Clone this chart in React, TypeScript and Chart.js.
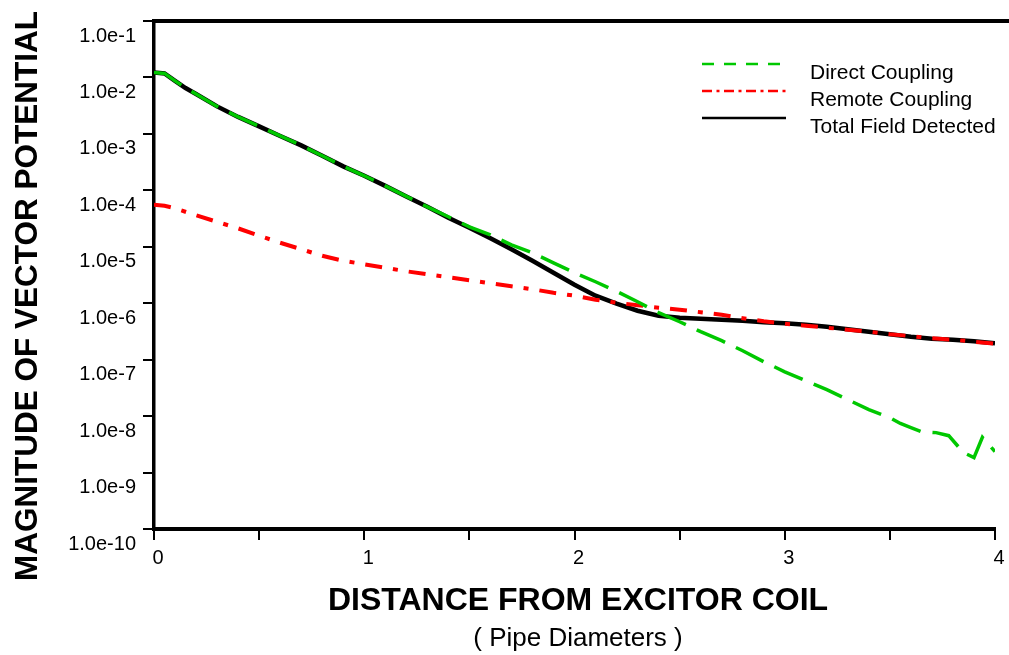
import React, { useEffect, useRef } from "react";
import { Chart, registerables } from "chart.js";

Chart.register(...registerables);

// ---- data ----
const directX = [0, 0.05, 0.1, 0.15, 0.2, 0.3, 0.4, 0.5, 0.6, 0.7, 0.8, 0.9, 1.0, 1.1, 1.2, 1.3, 1.4, 1.5, 1.6, 1.7, 1.8, 1.9, 2.0, 2.1, 2.2, 2.3, 2.4, 2.5, 2.6, 2.7, 2.8, 2.9, 3.0, 3.1, 3.2, 3.3, 3.4, 3.5, 3.55, 3.6, 3.65, 3.72, 3.78, 3.85, 3.9, 3.94, 4.0];
const directY = [1.22e-2, 1.18e-2, 8.7e-3, 6.5e-3, 5.1e-3, 3.07e-3, 2.0e-3, 1.36e-3, 9.2e-4, 6.25e-4, 4.1e-4, 2.66e-4, 1.81e-4, 1.2e-4, 7.8e-5, 5.1e-5, 3.4e-5, 2.26e-5, 1.63e-5, 1.08e-5, 7.8e-6, 5.2e-6, 3.47e-6, 2.4e-6, 1.63e-6, 1.06e-6, 6.8e-7, 4.7e-7, 3.13e-7, 2.17e-7, 1.44e-7, 9.2e-8, 6.1e-8, 4.25e-8, 2.94e-8, 1.96e-8, 1.3e-8, 9.4e-9, 7.4e-9, 6.25e-9, 5.3e-9, 5.1e-9, 4.5e-9, 2.26e-9, 1.84e-9, 4.2e-9, 2.35e-9];

const remoteX = [0, 0.05, 0.1, 0.2, 0.3, 0.4, 0.5, 0.6, 0.7, 0.8, 0.9, 1.0, 1.1, 1.2, 1.3, 1.4, 1.5, 1.6, 1.7, 1.8, 1.9, 2.0, 2.1, 2.2, 2.3, 2.4, 2.5, 2.6, 2.7, 2.8, 2.9, 3.0, 3.1, 3.2, 3.3, 3.4, 3.5, 3.6, 3.7, 3.8, 3.9, 4.0];
const remoteY = [5.54e-5, 5.32e-5, 4.8e-5, 3.61e-5, 2.77e-5, 2.12e-5, 1.57e-5, 1.18e-5, 9.04e-6, 6.93e-6, 5.65e-6, 4.9e-6, 4.25e-6, 3.68e-6, 3.26e-6, 2.88e-6, 2.55e-6, 2.26e-6, 2.0e-6, 1.77e-6, 1.53e-6, 1.36e-6, 1.15e-6, 1.02e-6, 9.22e-7, 8.32e-7, 7.67e-7, 6.93e-7, 6.25e-7, 5.43e-7, 4.8e-7, 4.34e-7, 4.0e-7, 3.68e-7, 3.4e-7, 3.13e-7, 2.83e-7, 2.61e-7, 2.4e-7, 2.26e-7, 2.08e-7, 1.92e-7];

const totalX = [0, 0.05, 0.1, 0.15, 0.2, 0.3, 0.4, 0.5, 0.6, 0.7, 0.8, 0.9, 1.0, 1.1, 1.2, 1.3, 1.4, 1.5, 1.6, 1.7, 1.8, 1.9, 2.0, 2.1, 2.2, 2.3, 2.4, 2.5, 2.6, 2.7, 2.8, 2.9, 3.0, 3.1, 3.2, 3.3, 3.4, 3.5, 3.6, 3.7, 3.8, 3.9, 4.0];
const totalY = [1.22e-2, 1.18e-2, 8.7e-3, 6.5e-3, 5.1e-3, 3.07e-3, 2.0e-3, 1.36e-3, 9.2e-4, 6.25e-4, 4.1e-4, 2.66e-4, 1.81e-4, 1.2e-4, 7.8e-5, 5.1e-5, 3.26e-5, 2.17e-5, 1.41e-5, 9.0e-6, 5.65e-6, 3.47e-6, 2.12e-6, 1.36e-6, 9.8e-7, 7.36e-7, 6.0e-7, 5.54e-7, 5.32e-7, 5.1e-7, 4.9e-7, 4.61e-7, 4.43e-7, 4.16e-7, 3.84e-7, 3.47e-7, 3.13e-7, 2.83e-7, 2.55e-7, 2.35e-7, 2.26e-7, 2.12e-7, 1.96e-7];

const yTicks = [1e-10, 1e-9, 1e-8, 1e-7, 1e-6, 1e-5, 1e-4, 1e-3, 1e-2, 1e-1];
const seriesNames = ["Direct Coupling", "Remote Coupling", "Total Field Detected"];
const xTitle = "DISTANCE FROM EXCITOR COIL";
const xSubTitle = "( Pipe Diameters )";
const yTitle = "MAGNITUDE OF VECTOR POTENTIAL";

const FONT = "'Liberation Sans', Arial, sans-serif";

const toPts = (xs: number[], ys: number[]) => xs.map((x, i) => ({ x, y: ys[i] }));

const decoPlugin = {
  id: "deco",
  afterDraw(chart: any) {
    const ctx = chart.ctx as CanvasRenderingContext2D;
    const ca = chart.chartArea;
    ctx.save();
    // top frame line
    ctx.strokeStyle = "#000";
    ctx.lineWidth = 4;
    ctx.beginPath();
    ctx.moveTo(ca.left - 1.5, ca.top);
    ctx.lineTo(chart.width, ca.top);
    ctx.stroke();

    // legend
    const legend = [
      { y: 64, color: "#00c800", dash: [12, 10] },
      { y: 91, color: "#ff0000", dash: [10, 4.5, 3, 4.5] },
      { y: 118, color: "#000000", dash: [] as number[] },
    ];
    legend.forEach((l, i) => {
      ctx.beginPath();
      ctx.setLineDash(l.dash);
      ctx.lineWidth = 2.5;
      ctx.strokeStyle = l.color;
      ctx.moveTo(702, l.y);
      ctx.lineTo(786, l.y);
      ctx.stroke();
      ctx.setLineDash([]);
      ctx.fillStyle = "#000";
      ctx.font = `21px ${FONT}`;
      ctx.textAlign = "left";
      ctx.textBaseline = "alphabetic";
      ctx.fillText(seriesNames[i], 810, l.y + 15);
    });

    // titles
    ctx.fillStyle = "#000";
    ctx.textAlign = "center";
    ctx.textBaseline = "alphabetic";
    ctx.font = `bold 32px ${FONT}`;
    ctx.fillText(xTitle, 578, 610);
    ctx.font = `26px ${FONT}`;
    ctx.fillText(xSubTitle, 578, 646);

    ctx.save();
    ctx.translate(37, 296);
    ctx.rotate(-Math.PI / 2);
    ctx.font = `bold 31.5px ${FONT}`;
    ctx.fillText(yTitle, 0, 0);
    ctx.restore();
    ctx.restore();
  },
};

export default function App() {
  const ref = useRef<HTMLCanvasElement | null>(null);
  useEffect(() => {
    document.body.style.margin = "0";
    if (!ref.current) return;
    const chart = new Chart(ref.current, {
      type: "line",
      data: {
        datasets: [
          {
            label: seriesNames[0],
            data: toPts(directX, directY),
            borderColor: "#00c800",
            borderWidth: 3.5,
            borderDash: [31, 12],
            borderCapStyle: "butt",
            pointRadius: 0,
            tension: 0,
            fill: false,
          },
          {
            label: seriesNames[1],
            data: toPts(remoteX, remoteY),
            borderColor: "#ff0000",
            borderWidth: 4,
            borderDash: [17, 11, 5, 11],
            borderCapStyle: "butt",
            pointRadius: 0,
            tension: 0,
            fill: false,
          },
          {
            label: seriesNames[2],
            data: toPts(totalX, totalY),
            borderColor: "#000000",
            borderWidth: 4.5,
            pointRadius: 0,
            tension: 0,
            fill: false,
          },
        ],
      },
      options: {
        responsive: false,
        animation: false,
        devicePixelRatio: 1,
        layout: { padding: { left: 0, top: 21, right: 14, bottom: 0 } },
        plugins: { legend: { display: false }, tooltip: { enabled: false }, title: { display: false } },
        scales: {
          x: {
            type: "linear",
            min: 0,
            max: 4,
            afterFit: (s: any) => {
              s.height = 126;
            },
            ticks: {
              stepSize: 0.5,
              autoSkip: false,
              maxRotation: 0,
              color: "#000",
              font: { family: FONT, size: 20 },
              padding: 6,
              labelOffset: 4,
              callback: (v: any) => (Number.isInteger(Number(v)) ? String(v) : ""),
            },
            grid: { display: true, drawOnChartArea: false, drawTicks: true, tickLength: 11, color: "#000", lineWidth: 2 },
            border: { display: true, color: "#000", width: 4 },
          },
          y: {
            type: "logarithmic",
            min: 1e-10,
            max: 1e-1,
            afterFit: (s: any) => {
              s.width = 154;
            },
            afterBuildTicks: (s: any) => {
              s.ticks = yTicks.map((v) => ({ value: v, major: true }));
            },
            ticks: {
              autoSkip: false,
              color: "#000",
              font: { family: FONT, size: 20 },
              padding: 7,
              labelOffset: 15,
              callback: (v: any) => Number(v).toExponential(1),
            },
            grid: { display: true, drawOnChartArea: false, drawTicks: true, tickLength: 11, color: "#000", lineWidth: 2 },
            border: { display: true, color: "#000", width: 3.5 },
          },
        },
      },
      plugins: [decoPlugin],
    });
    return () => chart.destroy();
  }, []);
  return (
    <div style={{ width: 1009, height: 655 }}>
      <canvas ref={ref} width={1009} height={655} style={{ display: "block" }} />
    </div>
  );
}
